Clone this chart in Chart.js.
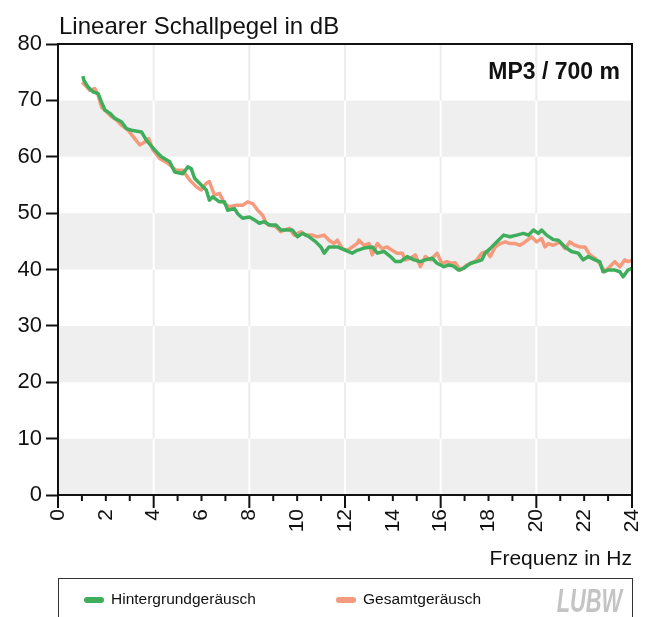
<!DOCTYPE html>
<html>
<head>
<meta charset="utf-8">
<script src="https://cdn.jsdelivr.net/npm/chart.js@4/dist/chart.umd.min.js"></script>
<style>
  html, body { margin: 0; padding: 0; background: #fff; }
  #wrap { width: 654px; height: 617px; }
</style>
</head>
<body>
<div id="wrap"><canvas id="myChart" width="654" height="617"></canvas></div>
<script>
// values
const greenFreq = [1.04, 1.08, 1.25, 1.47, 1.68, 1.82, 1.96, 2.17, 2.38, 2.65, 2.86, 3.07, 3.49, 3.70, 4.04, 4.32, 4.67, 4.88, 5.22, 5.43, 5.57, 5.71, 5.99, 6.20, 6.33, 6.47, 6.75, 6.96, 7.10, 7.38, 7.51, 7.72, 8.00, 8.21, 8.42, 8.63, 8.83, 9.11, 9.32, 9.53, 9.80, 10.01, 10.22, 10.50, 10.78, 10.99, 11.13, 11.33, 11.68, 12.03, 12.30, 12.51, 12.80, 13.14, 13.35, 13.63, 13.90, 14.11, 14.32, 14.60, 14.88, 15.15, 15.36, 15.64, 15.85, 16.13, 16.33, 16.54, 16.75, 16.96, 17.24, 17.51, 17.72, 17.86, 18.07, 18.28, 18.63, 18.90, 19.18, 19.46, 19.67, 19.88, 20.08, 20.22, 20.43, 20.71, 20.92, 21.20, 21.47, 21.75, 21.96, 22.17, 22.45, 22.65, 22.79, 23.00, 23.28, 23.49, 23.63, 23.83, 24.00];
const greenDb = [74.3, 73.6, 72.4, 71.5, 71.2, 69.7, 68.3, 67.7, 66.8, 66.2, 65.0, 64.7, 64.4, 62.9, 61.2, 60.0, 59.1, 57.3, 57.0, 58.2, 57.9, 56.2, 55.0, 54.1, 52.3, 52.9, 52.0, 52.0, 50.5, 50.8, 49.9, 49.1, 49.3, 48.8, 48.2, 48.5, 47.9, 47.9, 47.0, 47.0, 47.0, 45.8, 46.4, 45.8, 44.9, 44.0, 42.9, 44.0, 44.0, 43.4, 42.9, 43.4, 43.8, 44.0, 42.9, 43.2, 42.3, 41.4, 41.4, 42.3, 41.7, 41.4, 41.7, 42.0, 41.1, 40.5, 40.8, 40.6, 39.9, 40.2, 41.1, 41.4, 41.7, 42.9, 43.7, 44.6, 46.1, 45.8, 46.1, 46.4, 46.1, 47.0, 46.4, 47.0, 46.1, 45.3, 45.2, 44.0, 43.2, 42.9, 41.7, 42.3, 41.7, 41.4, 39.6, 39.9, 39.9, 39.6, 38.7, 39.9, 40.2];

const orangeFreq = [1.01, 1.20, 1.33, 1.54, 1.68, 1.82, 2.03, 2.24, 2.45, 2.65, 2.93, 3.21, 3.42, 3.63, 3.79, 3.97, 4.25, 4.60, 4.94, 5.22, 5.50, 5.78, 5.99, 6.20, 6.33, 6.54, 6.75, 6.96, 7.17, 7.44, 7.72, 7.93, 8.14, 8.35, 8.56, 8.70, 8.83, 9.11, 9.32, 9.46, 9.67, 9.88, 10.15, 10.36, 10.64, 10.85, 11.13, 11.33, 11.54, 11.68, 11.89, 12.10, 12.30, 12.51, 12.58, 12.79, 13.00, 13.14, 13.35, 13.55, 13.76, 13.97, 14.18, 14.39, 14.53, 14.74, 14.94, 15.15, 15.36, 15.57, 15.85, 16.05, 16.26, 16.47, 16.61, 16.82, 17.10, 17.30, 17.51, 17.72, 17.93, 18.07, 18.28, 18.49, 18.70, 18.90, 19.11, 19.32, 19.53, 19.80, 20.01, 20.22, 20.36, 20.50, 20.71, 20.99, 21.20, 21.40, 21.61, 21.82, 22.03, 22.24, 22.45, 22.65, 22.86, 23.07, 23.28, 23.49, 23.70, 23.83, 24.00];
const orangeDb = [73.2, 72.4, 71.8, 72.1, 70.9, 68.8, 68.0, 67.1, 66.5, 65.6, 64.7, 63.2, 62.1, 62.6, 63.2, 61.2, 59.7, 58.8, 57.6, 57.6, 55.9, 54.7, 54.1, 55.3, 55.6, 53.2, 53.5, 51.7, 51.1, 51.4, 51.4, 52.0, 51.7, 50.5, 49.6, 48.2, 47.9, 47.6, 46.7, 47.0, 47.3, 46.1, 46.7, 46.1, 46.1, 45.8, 46.1, 45.2, 44.6, 45.2, 43.7, 43.4, 44.0, 44.6, 45.2, 44.3, 44.6, 42.6, 44.6, 43.7, 44.0, 43.4, 42.9, 42.9, 41.7, 42.0, 42.6, 40.5, 42.3, 41.7, 42.9, 41.1, 41.4, 41.1, 41.2, 39.9, 40.8, 41.1, 41.7, 42.9, 43.2, 42.3, 44.0, 44.6, 44.9, 44.6, 44.6, 44.3, 44.9, 45.8, 44.9, 45.5, 44.0, 44.6, 44.3, 44.9, 43.7, 44.9, 44.3, 44.0, 44.0, 42.6, 42.0, 41.1, 39.6, 40.5, 41.4, 40.5, 41.7, 41.4, 41.6];

const seriesNames = ['Hintergrundgeräusch', 'Gesamtgeräusch'];
const xTickLabels = [0, 2, 4, 6, 8, 10, 12, 14, 16, 18, 20, 22, 24];
const yTickLabels = [0, 10, 20, 30, 40, 50, 60, 70, 80];
const gridFreqs = [4, 8, 12, 16, 20];

const yTitle = 'Linearer Schallpegel in dB';
const xTitle = 'Frequenz in Hz';
const panelLabel = 'MP3 / 700 m';

const GREEN = '#3fae5c';
const ORANGE = '#f59a7c';
const FONT = "'Liberation Sans', Arial, sans-serif";

function toPoints(xs, ys) {
  return xs.map((f, i) => ({ x: f, y: ys[i] }));
}

// grey bands every 10 dB + vertical grid lines
const bandsPlugin = {
  id: 'bands',
  beforeDraw(chart) {
    const { ctx, chartArea: a, scales: { x, y } } = chart;
    ctx.save();
    for (let v = 0; v < 80; v += 10) {
      const grey = (v / 10) % 2 === 0;
      const top = y.getPixelForValue(v + 10);
      const bot = y.getPixelForValue(v);
      ctx.fillStyle = grey ? '#efefef' : '#ffffff';
      ctx.fillRect(a.left, top, a.right - a.left, bot - top);
      ctx.strokeStyle = grey ? '#ffffff' : '#ececec';
      ctx.lineWidth = 2;
      gridFreqs.forEach(f => {
        const px = x.getPixelForValue(f);
        ctx.beginPath();
        ctx.moveTo(px, top);
        ctx.lineTo(px, bot);
        ctx.stroke();
      });
    }
    ctx.restore();
  }
};

// frame, x ticks, texts, legend
const decoPlugin = {
  id: 'deco',
  afterDatasetsDraw(chart) {
    const { ctx, chartArea: a } = chart;
    ctx.save();
    ctx.strokeStyle = '#111';
    ctx.lineWidth = 2;
    ctx.beginPath();
    ctx.moveTo(a.left, a.top);
    ctx.lineTo(a.right, a.top);
    ctx.lineTo(a.right, a.bottom);
    ctx.stroke();
    ctx.restore();
  },
  afterDraw(chart) {
    const { ctx, chartArea: a, scales: { x } } = chart;
    ctx.save();
    // x ticks: every 1 Hz, longer every 4 Hz
    ctx.strokeStyle = '#111';
    ctx.lineWidth = 2;
    for (let f = 0; f <= 24; f++) {
      const px = x.getPixelForValue(f);
      const len = f % 4 === 0 ? 13 : 6;
      ctx.beginPath();
      ctx.moveTo(px, a.bottom);
      ctx.lineTo(px, a.bottom + len);
      ctx.stroke();
    }
    ctx.fillStyle = '#111';
    ctx.textBaseline = 'alphabetic';
    ctx.textAlign = 'left';
    ctx.font = '24px ' + FONT;
    ctx.fillText(yTitle, 59, 34);
    ctx.textAlign = 'right';
    ctx.font = 'bold 23px ' + FONT;
    ctx.fillText(panelLabel, a.right - 12, 79);

    // legend frame
    ctx.strokeStyle = '#333';
    ctx.lineWidth = 1;
    ctx.strokeRect(a.left + 0.5, 578.5, a.right - a.left, 60);

    // legend items
    const itemX = [84, 336];
    ctx.textAlign = 'left';
    ctx.textBaseline = 'middle';
    ctx.font = '15.5px ' + FONT;
    chart.data.datasets.forEach((ds, i) => {
      ctx.strokeStyle = ds.borderColor;
      ctx.lineWidth = 6;
      ctx.lineCap = 'round';
      ctx.beginPath();
      ctx.moveTo(itemX[i] + 3, 600);
      ctx.lineTo(itemX[i] + 17, 600);
      ctx.stroke();
      ctx.fillStyle = '#111';
      ctx.fillText(ds.label, itemX[i] + 27, 600);
    });

    // logo
    ctx.fillStyle = '#c4c4c4';
    ctx.font = 'italic bold 33px ' + FONT;
    ctx.textAlign = 'right';
    ctx.textBaseline = 'alphabetic';
    ctx.translate(a.right - 10, 612);
    ctx.scale(0.66, 1);
    ctx.fillText('LUBW', 0, 0);
    ctx.restore();
  }
};

const chartContext = document.getElementById('myChart').getContext('2d');
const myChart = new Chart(chartContext, {
  type: 'line',
  data: {
    datasets: [{
      label: seriesNames[0],
      data: toPoints(greenFreq, greenDb),
      borderColor: GREEN,
      backgroundColor: GREEN,
      borderWidth: 3.5,
      pointRadius: 0,
      tension: 0,
      borderJoinStyle: 'round'
    }, {
      label: seriesNames[1],
      data: toPoints(orangeFreq, orangeDb),
      borderColor: ORANGE,
      backgroundColor: ORANGE,
      borderWidth: 3.5,
      pointRadius: 0,
      tension: 0,
      borderJoinStyle: 'round'
    }]
  },
  options: {
    responsive: false,
    animation: false,
    layout: { padding: { top: 44, right: 22, left: 0, bottom: 34 } },
    plugins: {
      tooltip: { enabled: false },
      legend: { display: false }
    },
    scales: {
      x: {
        type: 'linear',
        min: 0,
        max: 24,
        afterFit(s) { s.height = 88; s.paddingRight = 0; s.paddingLeft = 0; },
        grid: { drawOnChartArea: false, drawTicks: false },
        border: { display: true, color: '#111', width: 2 },
        ticks: {
          stepSize: 1,
          autoSkip: false,
          maxRotation: 90,
          minRotation: 90,
          padding: 14,
          color: '#111',
          font: { family: FONT, size: 21 },
          callback: v => xTickLabels.includes(v) ? String(v) : ''
        },
        title: {
          display: true,
          text: xTitle,
          align: 'end',
          color: '#111',
          font: { family: FONT, size: 21 },
          padding: { top: 0, bottom: 11 }
        }
      },
      y: {
        min: 0,
        max: 80,
        afterFit(s) { s.width = 58; s.paddingTop = 0; s.paddingBottom = 0; },
        grid: { drawOnChartArea: false, drawTicks: true, tickLength: 12, tickColor: '#111', tickWidth: 2 },
        border: { display: true, color: '#111', width: 2 },
        ticks: {
          stepSize: 10,
          padding: 4,
          color: '#111',
          font: { family: FONT, size: 22 },
          callback: v => yTickLabels.includes(v) ? String(v) : ''
        }
      }
    }
  },
  plugins: [bandsPlugin, decoPlugin]
});
</script>
</body>
</html>
